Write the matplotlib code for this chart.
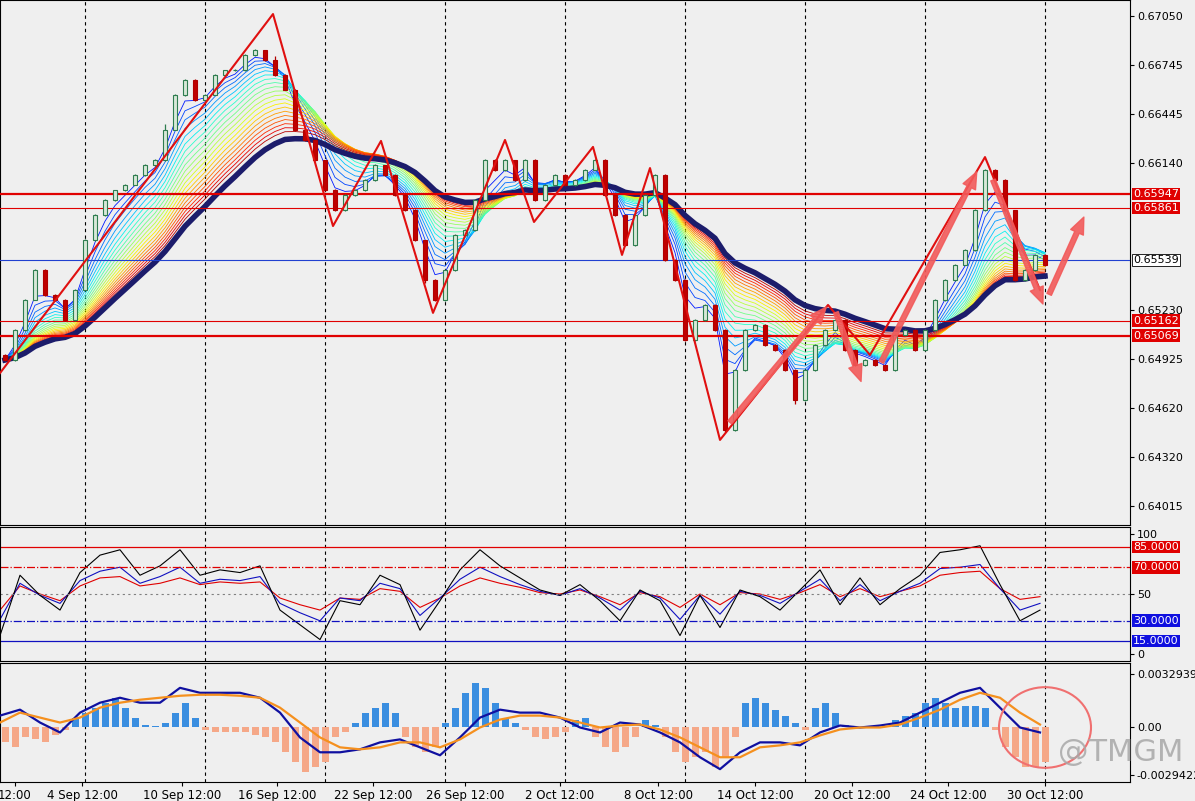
import matplotlib.pyplot as plt
from matplotlib.patches import Ellipse
import numpy as np
import pandas as pd

# closing prices, one bar every 10 px of chart
closes = [0.64919,0.65105,0.65291,0.65477,0.65322,0.65291,0.65167,0.65353,0.65662,0.65817,
          0.65910,0.65972,0.66003,0.66065,0.66127,0.66158,0.66344,0.66561,0.66653,0.66530,
          0.66561,0.66684,0.66715,0.66715,0.66808,0.66839,0.66777,0.66684,0.66592,0.66344,
          0.66282,0.66158,0.65972,0.65848,0.65941,0.65972,0.66034,0.66127,0.66065,0.65941,
          0.65848,0.65662,0.65415,0.65291,0.65477,0.65693,0.65724,0.65910,0.66158,0.66096,
          0.66158,0.66034,0.66158,0.65910,0.66003,0.66065,0.66003,0.66034,0.66096,0.66158,
          0.65941,0.65817,0.65631,0.65817,0.65941,0.66065,0.65539,0.65415,0.65043,0.65167,
          0.65260,0.65105,0.64486,0.64857,0.65105,0.65136,0.65012,0.64981,0.64857,0.64671,
          0.64857,0.65012,0.65105,0.65167,0.64981,0.64888,0.64919,0.64888,0.64857,0.65074,
          0.65105,0.64981,0.65105,0.65291,0.65415,0.65508,0.65600,0.65848,0.66096,0.66034,
          0.65848,0.65415,0.65477,0.65570,0.65508]
first_open = 0.64950
# wick lengths in pips above the body top / below the body bottom
wick_up = [4,3,5,8,4,3,4,5,4,6,5,3,4,5,4,6,34,5,4,6,4,5,3,4,5,4,3,27,5,4,
           6,4,3,5,4,6,4,5,3,4,5,4,3,4,5,6,4,5,8,4,5,3,4,5,4,6,4,5,4,6,
           4,3,5,4,6,8,4,5,3,6,4,5,4,6,4,5,4,6,4,5,4,6,5,4,3,4,5,4,3,6,
           4,5,4,6,5,4,6,8,7,4,5,3,4,6,4]
wick_dn = [8,5,4,3,5,4,8,4,5,3,4,5,4,3,4,5,4,3,4,6,4,3,5,4,3,4,5,4,3,4,
           5,4,6,5,4,3,4,5,4,6,5,4,20,6,4,5,4,3,4,5,4,6,4,5,4,3,4,5,4,3,
           5,4,8,4,5,4,6,5,8,4,5,6,11,6,5,4,6,5,4,25,5,4,6,5,4,6,5,8,4,5,
           4,5,6,4,5,4,3,4,5,4,6,8,5,4,6]

# zigzag indicator (x px, price)
zz_x = [0, 273, 333, 381, 433, 505, 534, 593, 622, 650, 720, 828, 870, 985, 1040]
zz_p = [0.64838, 0.67062, 0.65749, 0.66276, 0.65211, 0.66282, 0.65774, 0.66239,
        0.65570, 0.66108, 0.64424, 0.65260, 0.64950, 0.66176, 0.65353]

# hand drawn arrows (start x, start price, end x, end price)
arrows = [(728, 0.64520, 828, 0.65260), (835, 0.65230, 862, 0.64770),
          (880, 0.64890, 978, 0.66100), (992, 0.66050, 1044, 0.65250),
          (1048, 0.65310, 1085, 0.65820)]

levels = [0.65947, 0.65861, 0.65539, 0.65162, 0.65069]
level_cols = ['#E00000', '#E00000', '#2040D0', '#E00000', '#E00000']
level_lw = [1.6, 0.8, 0.8, 0.8, 1.6]
price_ticks = [0.67050, 0.66745, 0.66445, 0.66140, 0.65230, 0.64925, 0.64620, 0.64320, 0.64015]

# RSI style oscillator, every 20 px
rsi_black = [19,64,49,38,66,79,83,64,71,83,64,68,66,71,38,27,16,45,42,64,57,23,45,68,83,71,62,
             53,49,57,45,30,53,45,19,49,25,53,48,38,53,68,42,62,42,54,64,81,83,86,57,30,38]
rsi_blue = [31,58,49,43,60,67,70,58,63,70,58,61,60,63,43,36,30,47,45,58,54,34,47,61,70,63,57,
            52,49,54,47,38,52,47,31,49,35,52,49,43,52,61,45,57,45,52,58,69,70,72,54,38,43]
rsi_red = [38,56,50,45,56,62,63,56,58,62,57,59,58,59,47,42,38,47,46,54,52,40,47,56,62,58,55,
           51,50,53,48,42,51,48,40,50,42,51,50,46,51,57,48,54,48,52,56,64,66,67,54,46,48]

# MACD in units of 6.15e-5
MACD_UNIT = 6.15e-5
macd_hist = [-15,-20,-10,-12,-15,-8,-3,10,15,20,25,30,20,10,3,2,5,15,25,10,
             -3,-5,-5,-5,-5,-8,-10,-15,-25,-35,-45,-40,-35,-10,-5,5,15,20,25,15,
             -10,-20,-25,-20,5,20,35,45,40,25,10,5,-3,-10,-12,-10,-5,8,10,-10,
             -20,-25,-20,-10,8,3,-10,-25,-35,-30,-25,-40,-30,-10,25,30,25,18,12,5,
             -3,20,25,15,3,-1,1,2,2,8,12,15,25,30,25,20,22,22,20,-3,
             -20,-30,-40,-40,-35]
macd_main = [12,18,5,-5,15,25,30,25,25,40,35,35,35,30,15,-10,-25,-25,-22,-15,-12,-20,-28,-10,10,18,15,
             15,10,0,-5,5,3,-5,-15,-30,-42,-25,-15,-15,-18,-5,2,0,2,5,15,25,35,40,20,0,-5]
macd_signal = [5,15,10,5,10,20,25,28,30,32,33,33,32,30,20,5,-10,-20,-22,-20,-15,-15,-20,-12,0,8,12,
               12,10,5,0,2,3,-2,-10,-20,-30,-30,-20,-18,-15,-8,-2,0,0,3,10,18,28,35,30,15,3]

tick_pos = [15, 82, 182, 277, 373, 465, 560, 658, 755, 852, 948, 1045]
tick_lab = ['12:00', '4 Sep 12:00', '10 Sep 12:00', '16 Sep 12:00', '22 Sep 12:00', '26 Sep 12:00',
            '2 Oct 12:00', '8 Oct 12:00', '14 Oct 12:00', '20 Oct 12:00', '24 Oct 12:00', '30 Oct 12:00']

BG = '#EFEFEF'
W, H = 1195, 801
fig = plt.figure(figsize=(W / 100, H / 100), dpi=100, facecolor=BG)
ax = fig.add_axes([0, 1 - 525 / H, 1130 / W, 525 / H], facecolor=BG)
ax_r = fig.add_axes([0, 1 - 661 / H, 1130 / W, 134 / H], facecolor=BG)
ax_m = fig.add_axes([0, 1 - 782 / H, 1130 / W, 119 / H], facecolor=BG)

bx = np.arange(len(closes)) * 10 + 5
c = np.array(closes)
o = np.concatenate([[first_open], c[:-1]])
hi = np.maximum(o, c) + np.array(wick_up) * 1e-5
lo = np.minimum(o, c) - np.array(wick_dn) * 1e-5

# MA ribbon, fast = blue/green, slow = orange/red
s = pd.Series(c)
spans = list(range(3, 23))
cmap = plt.get_cmap('jet')
for k, sp in enumerate(spans):
    ax.plot(bx, s.ewm(span=sp, adjust=False).mean(), color=cmap(0.15 + 0.8 * k / (len(spans) - 1)), lw=0.6, zorder=2)
ax.plot(bx, s.ewm(span=24, adjust=False).mean(), color='#1C1C6B', lw=4, zorder=3)

up = c >= o
ax.vlines(bx, lo, hi, color=np.where(up, '#2E7D4F', '#B00000'), lw=0.9, zorder=4)
ax.bar(bx, np.abs(c - o) + 2e-5, bottom=np.minimum(o, c), width=4,
       color=np.where(up, '#D8E8D8', '#C00000'), edgecolor=np.where(up, '#2E7D4F', '#B00000'), lw=0.8, zorder=5)

for lv, col, lw in zip(levels, level_cols, level_lw):
    ax.axhline(lv, color=col, lw=lw, zorder=3)
    blue = col == '#2040D0'
    ax.text(1133, lv, f'{lv:.5f}', fontsize=8, color='black' if blue else 'white', va='center',
            ha='left', clip_on=False,
            bbox=dict(boxstyle='square,pad=0.12', fc='white' if blue else col, ec='black' if blue else 'none', lw=0.6))

ax.plot(zz_x, zz_p, color='#E01010', lw=1.5, zorder=6)
for x0, p0, x1, p1 in arrows:
    ax.annotate('', xy=(x1, p1), xytext=(x0, p0),
                arrowprops=dict(arrowstyle='simple,head_width=1.0,head_length=1.2,tail_width=0.35',
                                color='#F25A5A', alpha=0.9), zorder=7)

ax.set_xlim(0, 1130)
ax.set_ylim(0.63897, 0.67149)
ax.set_xticks([])
ax.yaxis.tick_right()
ax.set_yticks(price_ticks)
ax.set_yticklabels([f'{p:.5f}' for p in price_ticks], fontsize=8)

# RSI
rx = np.arange(len(rsi_black)) * 20
ax_r.plot(rx, rsi_red, color='#E00000', lw=0.8)
ax_r.plot(rx, rsi_blue, color='#1010C0', lw=0.8)
ax_r.plot(rx, rsi_black, color='black', lw=0.8)
ax_r.axhline(85, color='#E00000', lw=0.9)
ax_r.axhline(70, color='#E00000', lw=0.9, ls='-.')
ax_r.axhline(50, color='grey', lw=0.8, ls=(0, (2, 3)))
ax_r.axhline(30, color='#1010C0', lw=0.9, ls='-.')
ax_r.axhline(15, color='#1010C0', lw=0.9)
for lv, col in [(85, '#E00000'), (70, '#E00000'), (30, '#1010E0'), (15, '#1010E0')]:
    ax_r.text(1133, lv, f'{lv:.4f}', fontsize=8, color='white', va='center', clip_on=False,
              bbox=dict(boxstyle='square,pad=0.12', fc=col, ec='none'))
ax_r.set_xlim(0, 1130)
ax_r.set_ylim(0, 100)
ax_r.set_xticks([])
ax_r.yaxis.tick_right()
ax_r.set_yticks([5, 50, 95])
ax_r.set_yticklabels(['0', '50', '100'], fontsize=8)

# MACD
mx = np.arange(len(macd_main)) * 20
h = np.array(macd_hist) * MACD_UNIT
ax_m.bar(bx, h, width=7, color=np.where(h >= 0, '#3A8EE0', '#F5A888'), zorder=2)
ax_m.plot(mx, np.array(macd_main) * MACD_UNIT, color='#1010A0', lw=1.6, zorder=3)
ax_m.plot(mx, np.array(macd_signal) * MACD_UNIT, color='#F5901E', lw=1.6, zorder=3)
ax_m.add_patch(Ellipse((1045, 0.0), 92, 0.0050, fill=False, ec='#F07070', lw=1.5, zorder=4))
ax_m.set_xlim(0, 1130)
ax_m.set_ylim(-0.00338, 0.0040)
ax_m.yaxis.tick_right()
ax_m.set_yticks([0.0032939, 0.0, -0.0029422])
ax_m.set_yticklabels(['0.0032939', '0.00', '-0.0029422'], fontsize=8)
ax_m.set_xticks(tick_pos)
ax_m.set_xticklabels(tick_lab, fontsize=8.5)
fig.text(1183 / W, 1 - 752 / H, '@TMGM', fontsize=22, color='#A8A8A8', alpha=0.85,
         ha='right', va='center', zorder=10)

for a in (ax, ax_r, ax_m):
    for x in range(85, 1130, 120):
        a.axvline(x, color='black', lw=0.8, ls=(0, (3, 3)), zorder=1)
    a.tick_params(length=3, pad=2, colors='black')
    for sp in a.spines.values():
        sp.set_color('black')
        sp.set_linewidth(0.8)

fig.savefig('out.png', dpi=100, facecolor=BG)
